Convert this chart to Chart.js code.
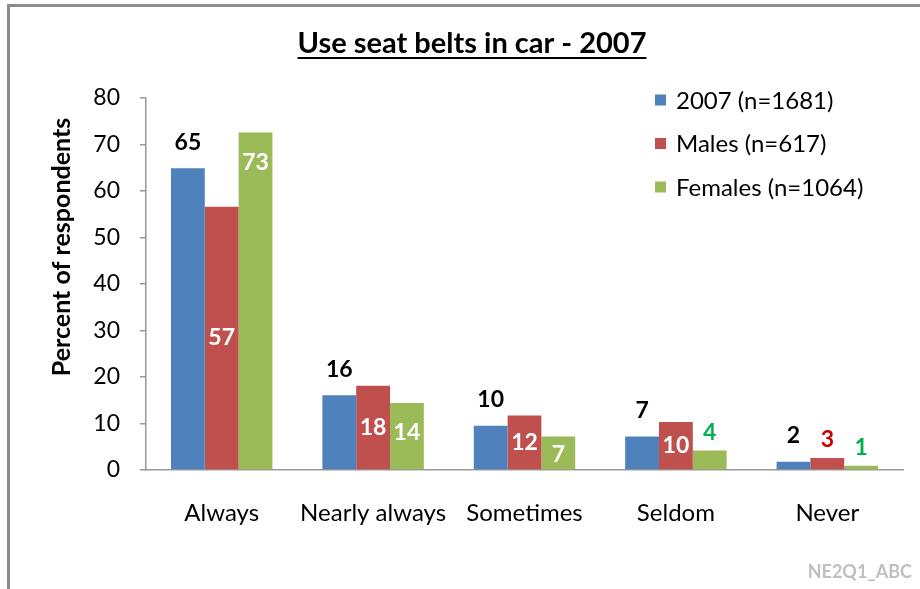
<!DOCTYPE html>
<html>
<head>
<meta charset="utf-8">
<title>Use seat belts in car - 2007</title>
<script src="https://cdn.jsdelivr.net/npm/chart.js@4/dist/chart.umd.min.js"></script>
<style>
    html, body { margin: 0; padding: 0; background: #fff; }
    .frame {
        position: absolute; left: 7px; top: 4px; right: 0; bottom: 0;
        border-left: 3px solid #8c8c8c; border-top: 3px solid #8c8c8c;
    }
    .chart-container { position: absolute; left: 0; top: 0; width: 920px; height: 589px; }
</style>
</head>
<body>
<div class="frame"></div>
<div class="chart-container"><canvas id="seatBeltChart" width="920" height="589"></canvas></div>
<script>
const categories = ["Always", "Nearly always", "Sometimes", "Seldom", "Never"];
const seriesNames = ["2007 (n=1681)", "Males (n=617)", "Females (n=1064)"];
const values2007 = [64.9, 16.1, 9.5, 7.2, 1.8];
const valuesMales = [56.6, 18.1, 11.7, 10.3, 2.6];
const valuesFemales = [72.6, 14.4, 7.2, 4.2, 0.9];
const yTicks = [0, 10, 20, 30, 40, 50, 60, 70, 80];

const FONT = "Lato, 'Open Sans', sans-serif";
const barColors = ["#4F81BD", "#C0504D", "#9BBB59"];

// title, axis title, legend and watermark drawn by hand
const decorations = {
    id: "decorations",
    afterDraw(chart) {
        const ctx = chart.ctx;
        ctx.save();

        // underlined title
        ctx.font = "bold 29px " + FONT;
        ctx.fillStyle = "#000";
        ctx.textAlign = "center";
        ctx.textBaseline = "alphabetic";
        const title = "Use seat belts in car - 2007";
        ctx.fillText(title, 472, 53);
        const tw = ctx.measureText(title).width;
        ctx.fillRect(472 - tw / 2, 57, tw, 2);

        // y axis title
        ctx.save();
        ctx.translate(62, 247);
        ctx.rotate(-Math.PI / 2);
        ctx.font = "bold 25px " + FONT;
        ctx.textBaseline = "middle";
        ctx.fillText("Percent of respondents", 0, 0);
        ctx.restore();

        // legend
        ctx.font = "24px " + FONT;
        ctx.textAlign = "left";
        ctx.textBaseline = "middle";
        chart.data.datasets.forEach((ds, i) => {
            const y = 100 + i * 43.5;
            ctx.fillStyle = ds.backgroundColor;
            ctx.fillRect(655, y - 5.5, 11, 11);
            ctx.fillStyle = "#000";
            ctx.fillText(ds.label, 676, y + 1);
        });

        // watermark
        ctx.font = "bold 18px " + FONT;
        ctx.fillStyle = "#bfbfbf";
        ctx.textAlign = "right";
        ctx.fillText("NE2Q1_ABC", 912, 572);
        ctx.restore();
    }
};

// value labels on the bars
const barLabels = {
    id: "barLabels",
    afterDatasetsDraw(chart) {
        const ctx = chart.ctx;
        ctx.save();
        ctx.font = "bold 23px " + FONT;
        ctx.textAlign = "center";
        ctx.textBaseline = "middle";
        chart.data.datasets.forEach((ds, di) => {
            const meta = chart.getDatasetMeta(di);
            meta.data.forEach((bar, i) => {
                const v = ds.data[i];
                const text = String(Math.round(v));
                const h = bar.base - bar.y;
                let y;
                if (di === 0) {
                    ctx.fillStyle = "#000";
                    y = bar.y - 26;
                } else if (v < 5) {
                    ctx.fillStyle = di === 1 ? "#CC0000" : "#00B050";
                    y = bar.y - 18;
                } else if (di === 1) {
                    ctx.fillStyle = "#fff";
                    y = bar.y + h / 2;
                } else {
                    ctx.fillStyle = "#fff";
                    y = bar.y + Math.min(30, h / 2 + 2);
                }
                ctx.fillText(text, bar.x, y);
            });
        });
        ctx.restore();
    }
};

const ctx = document.getElementById("seatBeltChart").getContext("2d");

new Chart(ctx, {
    type: "bar",
    data: {
        labels: categories,
        datasets: [
            { label: seriesNames[0], data: values2007, backgroundColor: barColors[0] },
            { label: seriesNames[1], data: valuesMales, backgroundColor: barColors[1] },
            { label: seriesNames[2], data: valuesFemales, backgroundColor: barColors[2] }
        ]
    },
    options: {
        responsive: false,
        animation: false,
        layout: { padding: { left: 0, right: 17, top: 98, bottom: 0 } },
        datasets: { bar: { categoryPercentage: 0.67, barPercentage: 1.0, borderWidth: 0 } },
        scales: {
            x: {
                grid: { display: false, drawTicks: false },
                border: { display: true, color: "#999", width: 1.5 },
                ticks: { color: "#000", font: { family: FONT, size: 24 }, padding: 29, maxRotation: 0 },
                afterFit(scale) { scale.height = 119; }
            },
            y: {
                min: 0,
                max: 80,
                afterBuildTicks(scale) { scale.ticks = yTicks.map(v => ({ value: v })); },
                grid: { drawOnChartArea: false, drawTicks: true, tickLength: 6, color: "#999", lineWidth: 1.5 },
                border: { display: true, color: "#999", width: 1.5 },
                ticks: { color: "#000", font: { family: FONT, size: 23 }, padding: 20 },
                afterFit(scale) { scale.width = 146; }
            }
        },
        plugins: {
            legend: { display: false },
            title: { display: false },
            tooltip: { enabled: false }
        }
    },
    plugins: [barLabels, decorations]
});
</script>
</body>
</html>
